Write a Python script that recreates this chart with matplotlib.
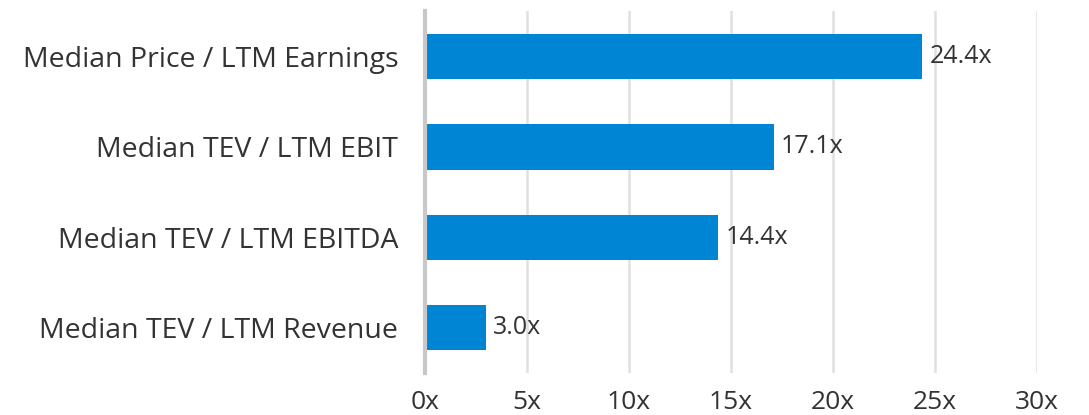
import matplotlib.pyplot as plt

categories = ["Median Price / LTM Earnings", "Median TEV / LTM EBIT",
              "Median TEV / LTM EBITDA", "Median TEV / LTM Revenue"]
values = [24.4, 17.1, 14.4, 3.0]
ticks = [0, 5, 10, 15, 20, 25, 30]
tick_labels = ["0x", "5x", "10x", "15x", "20x", "25x", "30x"]

plt.rcParams['font.family'] = ['Open Sans', 'DejaVu Sans']
text_color = "#333333"

fig = plt.figure(figsize=(10.89, 4.15), dpi=100)
ax = fig.add_axes([0.390, 0.101, 0.562, 0.872])

ax.barh(range(len(values)), values, height=0.5, color="#0084D4", zorder=3)
ax.set_ylim(3.5, -0.5)
ax.set_xlim(0, 30)

ax.set_yticks(range(len(categories)))
ax.set_yticklabels(categories, fontsize=20.5, color=text_color)
ax.set_xticks(ticks)
ax.set_xticklabels(tick_labels, fontsize=19, color=text_color)
ax.tick_params(axis="both", length=0)
ax.tick_params(axis="y", pad=19)
ax.tick_params(axis="x", pad=12)

ax.grid(axis="x", color="#e0e0e0", linewidth=1.8, zorder=0)
for s in ["top", "right", "bottom"]:
    ax.spines[s].set_visible(False)
ax.spines["left"].set_color("#c8c8c8")
ax.spines["left"].set_linewidth(3)
ax.spines["left"].set_zorder(4)

for i, v in enumerate(values):
    ax.annotate(f"{v:.1f}x", (v, i), xytext=(5, 0), textcoords="offset points",
                va="center", ha="left", fontsize=18, color=text_color)

fig.savefig("out.png", dpi=100)
